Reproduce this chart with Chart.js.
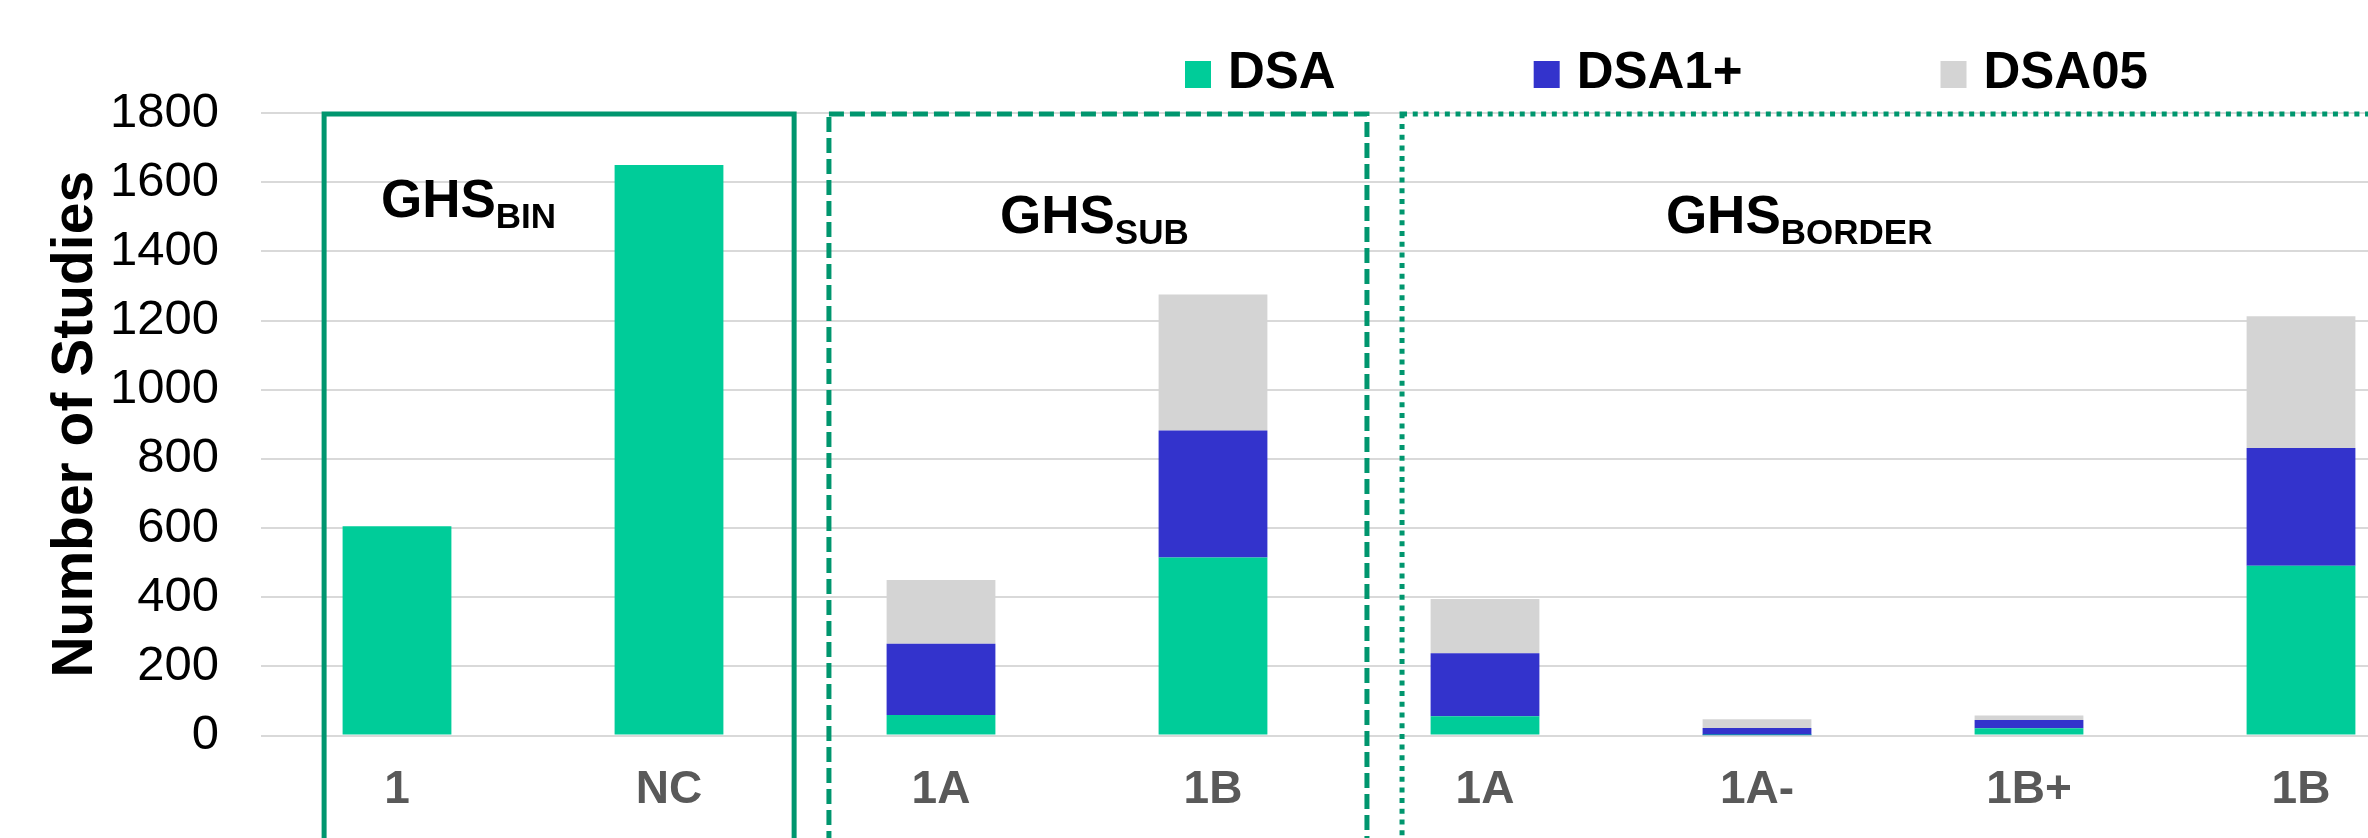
<!DOCTYPE html>
<html>
<head>
<meta charset="utf-8">
<script src="https://cdn.jsdelivr.net/npm/chart.js@4.4.1/dist/chart.umd.min.js"></script>
<style>
  html, body { margin: 0; padding: 0; overflow: hidden; background: #fff; }
  #wrap { width: 2440px; height: 838px; }
</style>
</head>
<body>
<div id="wrap"><canvas id="studyChart" width="2440" height="838"></canvas></div>
<script>
// data
const categories = ['1', 'NC', '1A', '1B', '1A', '1A-', '1B+', '1B'];
const dsa      = [605, 1650, 59, 515, 56, 1, 21, 491];
const dsa1Plus = [0, 0, 206, 367, 182, 21, 24, 340];
const dsa05    = [0, 0, 185, 393, 157, 25, 13, 381];
const seriesNames = ['DSA', 'DSA1+', 'DSA05'];
const groupMain = ['GHS', 'GHS', 'GHS'];
const groupSub = ['BIN', 'SUB', 'BORDER'];

const FONT = '"Liberation Sans", Arial, sans-serif';
const boxColor = '#00966E';

// group frames, in category units (0 = first bar centre)
const groupLayout = [
    { from: -0.268, to: 1.46, dash: [], textAt: -0.059, textValue: 1500 },
    { from: 1.588, to: 3.566, dash: [15, 6], textAt: 2.217, textValue: 1454 },
    { from: 3.695, to: 8.5, dash: [5, 5.7], textAt: 4.665, textValue: 1454 },
];

const groupBoxes = {
    id: 'groupBoxes',
    afterDraw(chart) {
        const { ctx, scales: { x, y } } = chart;
        const step = x.getPixelForValue(1) - x.getPixelForValue(0);
        const at = i => x.getPixelForValue(0) + i * step;
        const top = y.getPixelForValue(1800) + 1;
        ctx.save();
        groupLayout.forEach((g, k) => {
            ctx.strokeStyle = boxColor;
            ctx.lineWidth = 5;
            ctx.setLineDash(g.dash);
            ctx.strokeRect(at(g.from), top, at(g.to) - at(g.from), chart.height + 40);

            const tx = at(g.textAt);
            const ty = y.getPixelForValue(g.textValue);
            ctx.setLineDash([]);
            ctx.fillStyle = '#000';
            ctx.textBaseline = 'alphabetic';
            ctx.textAlign = 'left';
            ctx.font = 'bold 53px ' + FONT;
            ctx.fillText(groupMain[k], tx, ty);
            const w = ctx.measureText(groupMain[k]).width;
            ctx.font = 'bold 35px ' + FONT;
            ctx.fillText(groupSub[k], tx + w, ty + 11);
        });
        ctx.restore();
    }
};

const topLegend = {
    id: 'topLegend',
    afterDraw(chart) {
        const ctx = chart.ctx;
        let xPos = 1185;
        const yMid = 74;
        ctx.save();
        ctx.font = 'bold 51px ' + FONT;
        ctx.textBaseline = 'middle';
        ctx.textAlign = 'left';
        chart.data.datasets.forEach(ds => {
            ctx.fillStyle = ds.backgroundColor;
            ctx.fillRect(xPos, yMid - 13, 26, 27);
            xPos += 26 + 17;
            ctx.fillStyle = '#000';
            ctx.fillText(ds.label, xPos, yMid);
            xPos += ctx.measureText(ds.label).width + 198;
        });
        ctx.restore();
    }
};

const data = {
    labels: categories,
    datasets: [
        { label: seriesNames[0], data: dsa, backgroundColor: '#00CC99' },
        { label: seriesNames[1], data: dsa1Plus, backgroundColor: '#3333CC' },
        { label: seriesNames[2], data: dsa05, backgroundColor: '#D4D4D4' },
    ]
};

const config = {
    type: 'bar',
    data: data,
    options: {
        responsive: false,
        animation: false,
        devicePixelRatio: 1,
        categoryPercentage: 1,
        barPercentage: 0.4,
        layout: { padding: { top: 113, right: 3, left: 0, bottom: 0 } },
        plugins: {
            legend: { display: false },
            tooltip: { enabled: false },
        },
        scales: {
            x: {
                stacked: true,
                grid: { display: false, drawTicks: false },
                border: { display: false },
                ticks: {
                    autoSkip: false,
                    maxRotation: 0,
                    padding: 27,
                    color: '#595959',
                    font: { family: FONT, size: 46, weight: 'bold' },
                },
                afterFit: scale => { scale.height = 102.5; },
            },
            y: {
                stacked: true,
                min: 0,
                max: 1800,
                grid: { color: '#D9D9D9', lineWidth: 2, drawTicks: false },
                border: { display: false },
                ticks: {
                    stepSize: 200,
                    padding: 42,
                    color: '#000',
                    font: { family: FONT, size: 49 },
                    callback: value => String(value),
                },
                title: {
                    display: true,
                    text: 'Number of Studies',
                    color: '#000',
                    font: { family: FONT, size: 57, weight: 'bold' },
                    padding: { top: 42, bottom: 0 },
                },
                afterFit: scale => { scale.width = 261; },
            }
        }
    },
    plugins: [groupBoxes, topLegend]
};

const studyChart = new Chart(document.getElementById('studyChart'), config);
</script>
</body>
</html>
